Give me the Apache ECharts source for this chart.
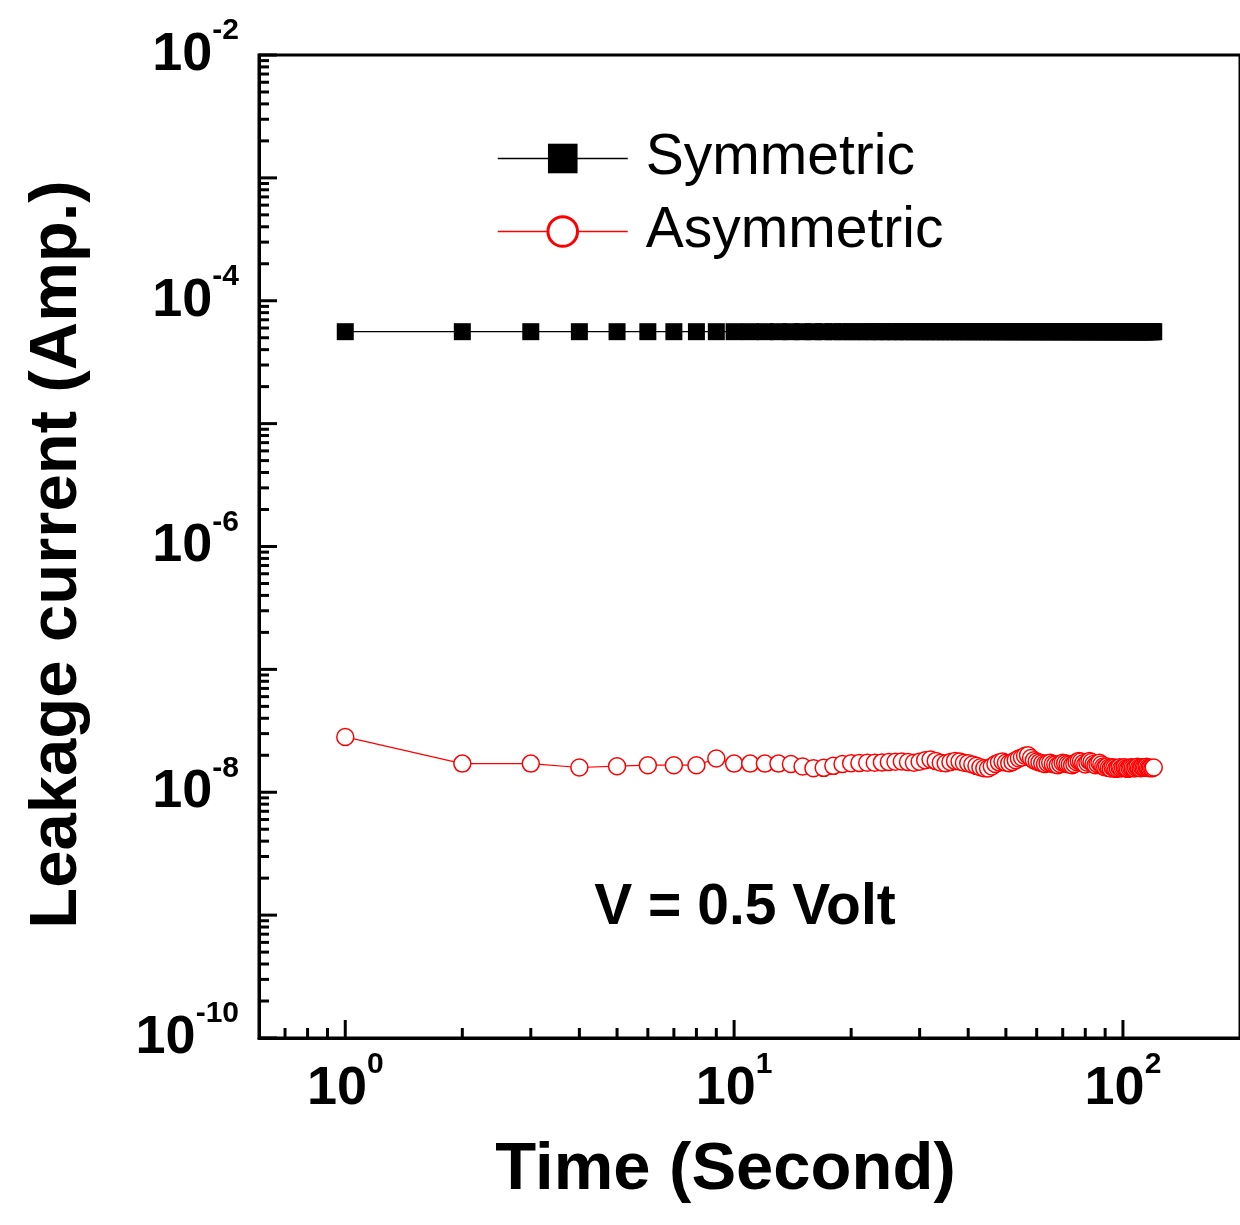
<!DOCTYPE html>
<html>
<head>
<meta charset="utf-8">
<title>Leakage current vs time</title>
<script src="https://cdn.jsdelivr.net/npm/echarts@6/dist/echarts.min.js"></script>
<style>
  html, body { margin: 0; padding: 0; background: #fff; }
  #chart { width: 1240px; height: 1225px; }
</style>
</head>
<body>
<div id="chart"></div>
<script>
// Measurement times (s)
const timeSec = [
  1, 2, 3, 4, 5, 6, 7, 8, 9, 10,
  11, 12, 13, 14, 15, 16, 17, 18, 19, 20,
  21, 22, 23, 24, 25, 26, 27, 28, 29, 30,
  31, 32, 33, 34, 35, 36, 37, 38, 39, 40,
  41, 42, 43, 44, 45, 46, 47, 48, 49, 50,
  51, 52, 53, 54, 55, 56, 57, 58, 59, 60,
  61, 62, 63, 64, 65, 66, 67, 68, 69, 70,
  71, 72, 73, 74, 75, 76, 77, 78, 79, 80,
  81, 82, 83, 84, 85, 86, 87, 88, 89, 90,
  91, 92, 93, 94, 95, 96, 97, 98, 99, 100,
  101, 102, 103, 104, 105, 106, 107, 108, 109, 110,
  111, 112, 113, 114, 115, 116, 117, 118, 119, 120
];

// Leakage current, symmetric device (A)
const symmetricCurrent = [
  5.6e-5, 5.6e-5, 5.6e-5, 5.6e-5, 5.6e-5, 5.6e-5, 5.6e-5, 5.6e-5, 5.6e-5, 5.6e-5,
  5.6e-5, 5.6e-5, 5.6e-5, 5.6e-5, 5.6e-5, 5.6e-5, 5.6e-5, 5.6e-5, 5.6e-5, 5.6e-5,
  5.6e-5, 5.6e-5, 5.6e-5, 5.6e-5, 5.6e-5, 5.6e-5, 5.6e-5, 5.6e-5, 5.6e-5, 5.6e-5,
  5.6e-5, 5.6e-5, 5.6e-5, 5.6e-5, 5.6e-5, 5.6e-5, 5.6e-5, 5.6e-5, 5.6e-5, 5.6e-5,
  5.6e-5, 5.6e-5, 5.6e-5, 5.6e-5, 5.6e-5, 5.6e-5, 5.6e-5, 5.6e-5, 5.6e-5, 5.6e-5,
  5.6e-5, 5.6e-5, 5.6e-5, 5.6e-5, 5.6e-5, 5.6e-5, 5.6e-5, 5.6e-5, 5.6e-5, 5.6e-5,
  5.6e-5, 5.6e-5, 5.6e-5, 5.6e-5, 5.6e-5, 5.6e-5, 5.6e-5, 5.6e-5, 5.6e-5, 5.6e-5,
  5.6e-5, 5.6e-5, 5.6e-5, 5.6e-5, 5.6e-5, 5.6e-5, 5.6e-5, 5.6e-5, 5.6e-5, 5.6e-5,
  5.6e-5, 5.6e-5, 5.6e-5, 5.6e-5, 5.6e-5, 5.6e-5, 5.6e-5, 5.6e-5, 5.6e-5, 5.6e-5,
  5.6e-5, 5.6e-5, 5.6e-5, 5.6e-5, 5.6e-5, 5.6e-5, 5.6e-5, 5.6e-5, 5.6e-5, 5.6e-5,
  5.6e-5, 5.6e-5, 5.6e-5, 5.6e-5, 5.6e-5, 5.6e-5, 5.6e-5, 5.6e-5, 5.6e-5, 5.6e-5,
  5.6e-5, 5.6e-5, 5.6e-5, 5.6e-5, 5.6e-5, 5.6e-5, 5.6e-5, 5.6e-5, 5.6e-5, 5.6e-5
];

// Leakage current, asymmetric device (A)
const asymmetricCurrent = [
  2.82e-8, 1.71e-8, 1.71e-8, 1.59e-8, 1.63e-8, 1.66e-8, 1.66e-8, 1.66e-8, 1.88e-8, 1.71e-8,
  1.71e-8, 1.71e-8, 1.71e-8, 1.70e-8, 1.62e-8, 1.57e-8, 1.58e-8, 1.64e-8, 1.70e-8, 1.72e-8,
  1.73e-8, 1.74e-8, 1.74e-8, 1.75e-8, 1.76e-8, 1.77e-8, 1.78e-8, 1.76e-8, 1.74e-8, 1.77e-8,
  1.82e-8, 1.85e-8, 1.80e-8, 1.74e-8, 1.72e-8, 1.76e-8, 1.80e-8, 1.78e-8, 1.74e-8, 1.72e-8,
  1.68e-8, 1.64e-8, 1.60e-8, 1.57e-8, 1.56e-8, 1.62e-8, 1.70e-8, 1.75e-8, 1.78e-8, 1.74e-8,
  1.72e-8, 1.76e-8, 1.82e-8, 1.88e-8, 1.92e-8, 1.98e-8, 2.00e-8, 1.90e-8, 1.82e-8, 1.78e-8,
  1.75e-8, 1.72e-8, 1.70e-8, 1.72e-8, 1.74e-8, 1.70e-8, 1.68e-8, 1.66e-8, 1.70e-8, 1.74e-8,
  1.72e-8, 1.70e-8, 1.68e-8, 1.66e-8, 1.70e-8, 1.76e-8, 1.80e-8, 1.78e-8, 1.72e-8, 1.68e-8,
  1.74e-8, 1.80e-8, 1.76e-8, 1.70e-8, 1.66e-8, 1.70e-8, 1.74e-8, 1.68e-8, 1.62e-8, 1.60e-8,
  1.62e-8, 1.58e-8, 1.56e-8, 1.60e-8, 1.58e-8, 1.55e-8, 1.57e-8, 1.60e-8, 1.56e-8, 1.58e-8,
  1.60e-8, 1.57e-8, 1.55e-8, 1.58e-8, 1.60e-8, 1.58e-8, 1.56e-8, 1.59e-8, 1.61e-8, 1.58e-8,
  1.57e-8, 1.60e-8, 1.58e-8, 1.59e-8, 1.61e-8, 1.58e-8, 1.57e-8, 1.58e-8, 1.57e-8, 1.59e-8
];

const seriesNames = ['Symmetric', 'Asymmetric'];
const annotationText = 'V = 0.5 Volt';
const xAxisTitle = 'Time (Second)';
const yAxisTitle = 'Leakage current (Amp.)';

// Axis ranges and tick positions
const xRange = [0.6, 200];
const yRange = [1e-10, 1e-2];
const xMajorTicks = [1, 10, 100];
const xMinorTicks = [0.7, 0.8, 0.9, 2, 3, 4, 5, 6, 7, 8, 9, 20, 30, 40, 50, 60, 70, 80, 90];
const yMajorTicks = [1e-10, 1e-9, 1e-8, 1e-7, 1e-6, 1e-5, 1e-4, 1e-3, 1e-2];
const minorMultipliers = [2, 3, 4, 5, 6, 7, 8, 9];

const FONT = '"Liberation Sans", Arial, Helvetica, sans-serif';

const pairs = (xs, ys) => xs.map((x, i) => [x, ys[i]]);

// tick data: [x, y, isMajor]
const xTickData = xMajorTicks.map(v => [v, yRange[0], 1])
  .concat(xMinorTicks.map(v => [v, yRange[0], 0]));
const yMinorTicks = [];
yMajorTicks.slice(0, -1).forEach(d => minorMultipliers.forEach(m => yMinorTicks.push(m * d)));
const yTickData = yMajorTicks.map(v => [xRange[0], v, 1])
  .concat(yMinorTicks.map(v => [xRange[0], v, 0]));

function exponentOf(v) {
  const e = Math.log10(v);
  return Math.abs(e - Math.round(e)) < 1e-6 ? Math.round(e) : null;
}

const richPow = {
  b: { fontSize: 54, fontWeight: 'bold', fontFamily: FONT, color: '#000' },
  s: { fontSize: 30, fontWeight: 'bold', fontFamily: FONT, color: '#000', padding: [0, 0, 48, 0] }
};

const chart = echarts.init(document.getElementById('chart'), null, { renderer: 'canvas' });

chart.setOption({
  animation: false,
  backgroundColor: '#fff',
  grid: {
    left: 259, top: 55, right: -4, bottom: 187,
    show: true, borderColor: '#000', borderWidth: 3, backgroundColor: 'transparent'
  },
  xAxis: {
    type: 'log', logBase: 10, min: xRange[0], max: xRange[1],
    name: xAxisTitle, nameLocation: 'middle', nameGap: 99,
    nameTextStyle: { fontSize: 67, fontWeight: 'bold', fontFamily: FONT, color: '#000', padding: [0, 48, 0, 0] },
    axisLine: { lineStyle: { color: '#000', width: 3 } },
    axisTick: { show: false },
    splitLine: { show: false },
    axisLabel: {
      margin: 12, showMinLabel: false, showMaxLabel: false, hideOverlap: false,
      formatter: v => { const e = exponentOf(v); return e === null ? '' : '{b|10}{s|' + e + '}'; },
      rich: richPow
    }
  },
  yAxis: {
    type: 'log', logBase: 10, min: yRange[0], max: yRange[1],
    name: yAxisTitle, nameLocation: 'middle', nameGap: 168,
    nameTextStyle: { fontSize: 67, fontWeight: 'bold', fontFamily: FONT, color: '#000', padding: [0, 16, 0, 0] },
    axisLine: { lineStyle: { color: '#000', width: 3 } },
    axisTick: { show: false },
    splitLine: { show: false },
    axisLabel: {
      margin: 20, hideOverlap: false,
      formatter: v => { const e = exponentOf(v); return (e === null || e % 2 !== 0) ? '' : '{b|10}{s|' + e + '}'; },
      rich: richPow
    }
  },
  legend: {
    data: [
      { name: seriesNames[0], itemStyle: { borderWidth: 0 } },
      { name: seriesNames[1], itemStyle: { borderWidth: 3 } }
    ],
    orient: 'vertical', left: 497, top: 130, padding: 0,
    itemWidth: 130, itemHeight: 37, itemGap: 16,
    lineStyle: { width: 1.5 },
    textStyle: { fontSize: 57, fontFamily: FONT, color: '#000', padding: [0, 0, 0, 13] },
    selectedMode: false
  },
  graphic: [{
    type: 'text', x: 745, y: 908, silent: true,
    style: { text: annotationText, font: 'bold 57px ' + FONT, fill: '#000', align: 'center', verticalAlign: 'middle' }
  }],
  series: [
    {
      name: seriesNames[0], type: 'line', data: pairs(timeSec, symmetricCurrent),
      symbol: 'rect', symbolSize: 17, showAllSymbol: true,
      itemStyle: { color: '#000' },
      lineStyle: { color: '#000', width: 1.2 },
      z: 3
    },
    {
      name: seriesNames[1], type: 'line', data: pairs(timeSec, asymmetricCurrent),
      symbol: 'circle', symbolSize: 17, showAllSymbol: true,
      itemStyle: { color: '#fff', borderColor: '#ff0000', borderWidth: 1.5 },
      lineStyle: { color: '#ff0000', width: 1.2 },
      z: 3
    },
    {
      // bottom-axis ticks on a log scale, drawn inward
      type: 'custom', silent: true, clip: false, z: 5,
      data: xTickData, encode: { x: 0, y: 1 },
      renderItem: (params, api) => {
        const p = api.coord([api.value(0), api.value(1)]);
        const len = api.value(2) ? 18 : 10;
        return { type: 'line', shape: { x1: p[0], y1: p[1], x2: p[0], y2: p[1] - len },
                 style: { stroke: '#000', lineWidth: 3 } };
      }
    },
    {
      // left-axis ticks on a log scale, drawn inward
      type: 'custom', silent: true, clip: false, z: 5,
      data: yTickData, encode: { x: 0, y: 1 },
      renderItem: (params, api) => {
        const p = api.coord([api.value(0), api.value(1)]);
        const len = api.value(2) ? 18 : 10;
        return { type: 'line', shape: { x1: p[0], y1: p[1], x2: p[0] + len, y2: p[1] },
                 style: { stroke: '#000', lineWidth: 3 } };
      }
    }
  ]
});
</script>
</body>
</html>
